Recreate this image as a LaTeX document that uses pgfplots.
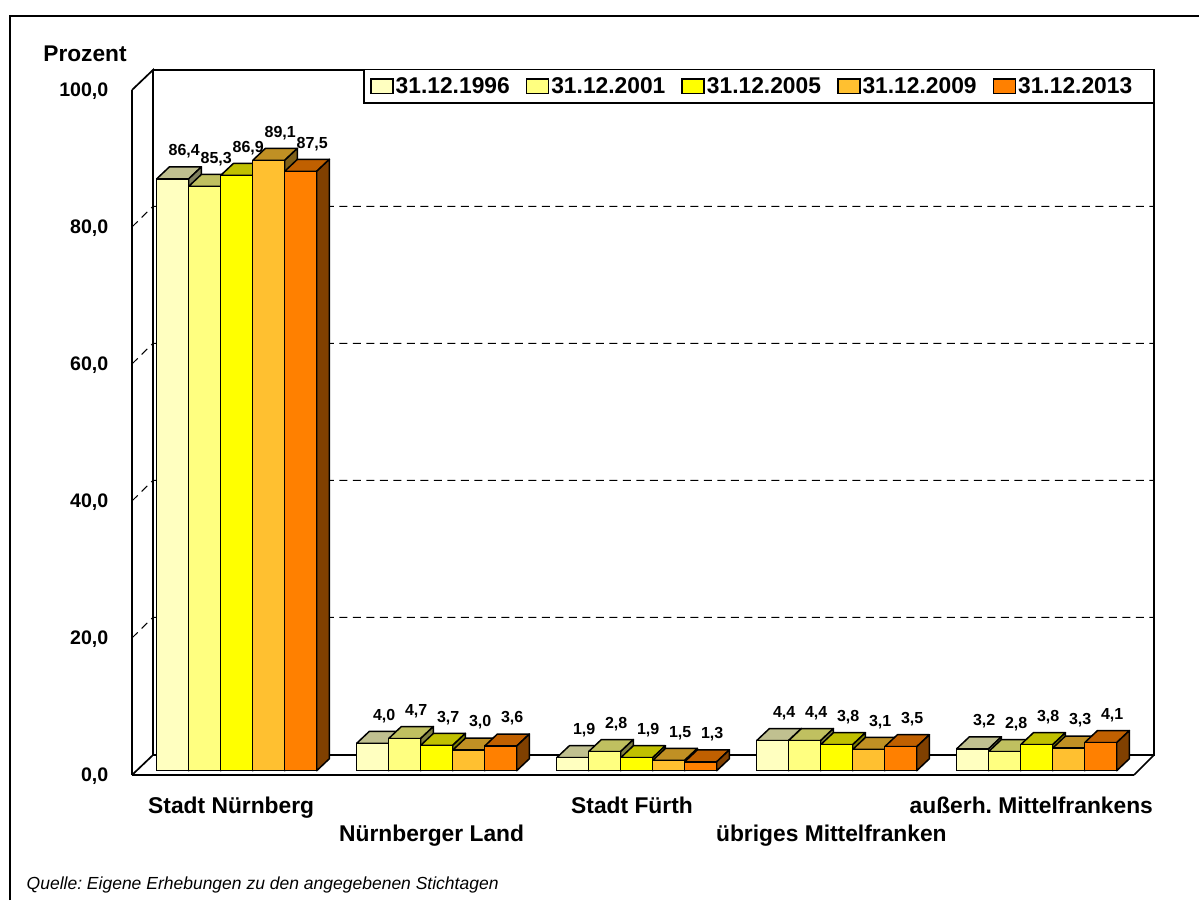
\documentclass[border=0pt]{standalone}
\usepackage{fontspec}
\setmainfont{Liberation Sans}
\usepackage{pgfplots}
\pgfplotsset{compat=1.18}
\frenchspacing
\definecolor{fa}{HTML}{FFFFC0}\definecolor{ta}{HTML}{C0C090}\definecolor{sa}{HTML}{808060}
\definecolor{fb}{HTML}{FFFF80}\definecolor{tb}{HTML}{C0C060}\definecolor{sb}{HTML}{808040}
\definecolor{fc}{HTML}{FFFF00}\definecolor{tc}{HTML}{C0C000}\definecolor{sc}{HTML}{808000}
\definecolor{fd}{HTML}{FFC030}\definecolor{td}{HTML}{C09024}\definecolor{sd}{HTML}{806018}
\definecolor{fe}{HTML}{FF8000}\definecolor{te}{HTML}{C06000}\definecolor{se}{HTML}{804000}
% top and side face of one 3D bar: centre x, value, top colour, side colour
\newcommand{\cube}[4]{%
  \pgfmathsetmacro{\xa}{#1-16}\pgfmathsetmacro{\xb}{#1+16}%
  \pgfmathsetmacro{\xc}{#1+28.7}\pgfmathsetmacro{\xd}{#1-3.3}%
  \pgfmathsetmacro{\yt}{#2+1.75}%
  \addplot[fill=#3,draw=black,line width=1.5pt,line join=round,forget plot] coordinates {(\xa,#2) (\xb,#2) (\xc,\yt) (\xd,\yt)} -- cycle;
  \addplot[fill=#4,draw=black,line width=1.5pt,line join=round,forget plot] coordinates {(\xb,0) (\xb,#2) (\xc,\yt) (\xc,1.75)} -- cycle;
}
\pgfplotsset{front bar/.style={ybar,bar width=32,bar shift=0pt,fill=#1,draw=black,line width=1.5pt,
  nodes near coords,
  every node near coord/.append style={anchor=center,xshift=11.5pt,yshift=27.5pt,
    font=\fontsize{16}{16}\selectfont\bfseries,inner sep=0pt,
    /pgf/number format/.cd,use comma,fixed,fixed zerofill,precision=1,assume math mode=true},
  area legend,
  legend image code/.code={\draw[fill=#1,draw=black,line width=1.5pt] (0pt,-7.2pt) rectangle (22pt,7.2pt);}}}
\begin{document}
\begin{tikzpicture}[x=1pt,y=1pt]
\path[use as bounding box] (0,0) rectangle (1199,900);
\draw[line width=1.8pt] (10,0) -- (10,884) -- (1199,884);
\node[anchor=center,font=\fontsize{22.7}{24}\selectfont\bfseries] at (85,846) {Prozent};
\node[anchor=west,font=\fontsize{17.5}{20}\selectfont\itshape,inner sep=0pt] at (26.5,15.5) {Quelle: Eigene Erhebungen zu den angegebenen Stichtagen};
\begin{axis}[
  at={(132pt,125pt)},anchor=south west,
  scale only axis,width=1002pt,height=685pt,
  xmin=132,xmax=1134,ymin=-0.628,ymax=99.372,
  clip=false,
  axis x line=bottom,axis y line=left,
  axis line style={-,line width=1.8pt},
  major tick length=0pt,
  xtick={231.2,431.6,632,831.4,1031.3},
  xticklabels={{Stadt Nürnberg},{\strut\\Nürnberger Land},{Stadt Fürth},{\strut\\übriges Mittelfranken},{außerh. Mittelfrankens}},
  xticklabel style={align=center,anchor=north,yshift=-22pt,inner sep=0pt,font=\fontsize{22.8}{26}\selectfont\bfseries},
  ytick={-0.628,19.372,39.372,59.372,79.372,99.372},
  yticklabels={{0,0},{20,0},{40,0},{60,0},{80,0},{100,0}},
  yticklabel style={anchor=east,xshift=-23.5pt,yshift=-1pt,inner sep=0pt,font=\fontsize{19.6}{20}\selectfont\bfseries},
  legend columns=5,
  legend style={at={(axis cs:1154,102.44)},anchor=north east,draw=black,line width=1.5pt,fill=white,
    font=\fontsize{22.8}{24}\selectfont\bfseries,inner xsep=6pt,inner ysep=6pt,
    /tikz/every even column/.append style={column sep=14pt},
    cells={anchor=west}},
]
% walls and floor
\addplot[black,line width=1.7pt,forget plot] coordinates {(132,99.372) (153,102.3) (153,2.29) (1154,2.29) (1154,102.3) (153,102.3)};
\addplot[black,line width=1.7pt,forget plot] coordinates {(132,-0.628) (153,2.29)};
\addplot[black,line width=1.7pt,forget plot] coordinates {(1134,-0.628) (1154,2.29)};
% dashed grid on back and side wall
\addplot[black,line width=1pt,dash pattern=on 8pt off 5.5pt,forget plot] coordinates {(132,19.372) (153,22.4) (1154,22.4)};
\addplot[black,line width=1pt,dash pattern=on 8pt off 5.5pt,forget plot] coordinates {(132,39.372) (153,42.4) (1154,42.4)};
\addplot[black,line width=1pt,dash pattern=on 8pt off 5.5pt,forget plot] coordinates {(132,59.372) (153,62.4) (1154,62.4)};
\addplot[black,line width=1pt,dash pattern=on 8pt off 5.5pt,forget plot] coordinates {(132,79.372) (153,82.4) (1154,82.4)};
% 31.12.1996
\cube{172.7}{86.4}{ta}{sa}\cube{372.7}{4.0}{ta}{sa}\cube{572.7}{1.9}{ta}{sa}\cube{772.7}{4.4}{ta}{sa}\cube{972.7}{3.2}{ta}{sa}
\addplot[front bar=fa] coordinates {(172.7,86.4) (372.7,4.0) (572.7,1.9) (772.7,4.4) (972.7,3.2)};
\addlegendentry{31.12.1996}
% 31.12.2001
\cube{204.7}{85.3}{tb}{sb}\cube{404.7}{4.7}{tb}{sb}\cube{604.7}{2.8}{tb}{sb}\cube{804.7}{4.4}{tb}{sb}\cube{1004.7}{2.8}{tb}{sb}
\addplot[front bar=fb] coordinates {(204.7,85.3) (404.7,4.7) (604.7,2.8) (804.7,4.4) (1004.7,2.8)};
\addlegendentry{31.12.2001}
% 31.12.2005
\cube{236.7}{86.9}{tc}{sc}\cube{436.7}{3.7}{tc}{sc}\cube{636.7}{1.9}{tc}{sc}\cube{836.7}{3.8}{tc}{sc}\cube{1036.7}{3.8}{tc}{sc}
\addplot[front bar=fc] coordinates {(236.7,86.9) (436.7,3.7) (636.7,1.9) (836.7,3.8) (1036.7,3.8)};
\addlegendentry{31.12.2005}
% 31.12.2009
\cube{268.7}{89.1}{td}{sd}\cube{468.7}{3.0}{td}{sd}\cube{668.7}{1.5}{td}{sd}\cube{868.7}{3.1}{td}{sd}\cube{1068.7}{3.3}{td}{sd}
\addplot[front bar=fd] coordinates {(268.7,89.1) (468.7,3.0) (668.7,1.5) (868.7,3.1) (1068.7,3.3)};
\addlegendentry{31.12.2009}
% 31.12.2013
\cube{300.7}{87.5}{te}{se}\cube{500.7}{3.6}{te}{se}\cube{700.7}{1.3}{te}{se}\cube{900.7}{3.5}{te}{se}\cube{1100.7}{4.1}{te}{se}
\addplot[front bar=fe] coordinates {(300.7,87.5) (500.7,3.6) (700.7,1.3) (900.7,3.5) (1100.7,4.1)};
\addlegendentry{31.12.2013\rule{13pt}{0pt}}
\end{axis}
\end{tikzpicture}
\end{document}
